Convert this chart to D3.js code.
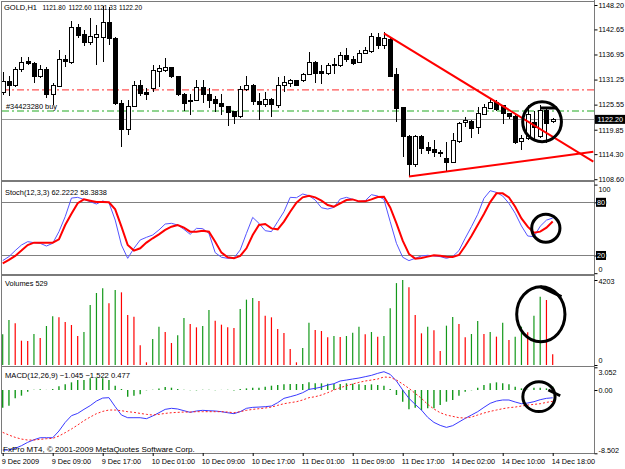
<!DOCTYPE html>
<html><head><meta charset="utf-8">
<script src="https://cdn.jsdelivr.net/npm/d3@7/dist/d3.min.js"></script>
<style>
body{margin:0;background:#fff;}
text{font-family:"Liberation Sans",Arial,sans-serif;font-size:7.4px;white-space:pre;}
</style>
</head><body>
<svg id="c" width="625" height="469"></svg>
<script>
// ---------------- DATA ----------------
const symbolLabel = "GOLD,H1";
const timeLabels = ["9 Dec 2009","9 Dec 09:00","9 Dec 17:00","10 Dec 01:00","10 Dec 09:00","10 Dec 17:00","11 Dec 01:00","11 Dec 09:00","11 Dec 17:00","14 Dec 02:00","14 Dec 10:00","14 Dec 18:00"];
const timeLabelBars = [0,8,16,24,32,40,48,56,64,72,80,88];

const open = [1128.2,1130.8,1129.8,1133.6,1135.3,1134.8,1131.9,1133.65,1127.75,1129.6,
1135.7,1135.1,1143.1,1141.4,1139.6,1140.9,1140.85,1144.3,1140.6,1125.7,
1119.8,1125.1,1130.0,1128.3,1129.25,1133.05,1133.3,1134.05,1131.9,1127.75,
1126.15,1126.6,1129.5,1127.9,1126.75,1125.7,1125.1,1123.95,1122.8,1129.05,
1129.8,1126.2,1125.5,1126.75,1125.25,1130.0,1130.4,1130.95,1130.95,1132.5,
1135.1,1133.05,1132.7,1134.35,1134.35,1136.8,1135.85,1135.1,1137.2,1137.6,
1140.85,1139.1,1140.4,1132.5,1124.95,1118.25,1112.05,1118.4,1115.8,1115.25,
1114.6,1113.35,1112.45,1117.1,1121.45,1121.7,1120.4,1123.4,1124.75,1126.05,
1125.25,1123.45,1122.95,1117.1,1117.9,1121.5,1118.25,1124.3,1121.80];
const high = [1133.0,1132.1,1134.2,1136.45,1136.3,1135.3,1134.6,1134.0,1130.4,1138.0,
1136.8,1144.6,1143.8,1142.5,1145.2,1143.65,1148.0,1147.8,1140.9,1126.6,
1126.6,1131.0,1131.1,1129.3,1134.5,1134.6,1136.1,1134.2,1132.05,1128.1,
1128.0,1131.2,1131.2,1129.3,1127.4,1127.9,1125.25,1124.0,1129.9,1132.05,
1130.3,1128.1,1128.5,1127.0,1131.9,1132.05,1131.3,1131.0,1132.8,1137.6,
1135.55,1134.6,1134.95,1136.1,1137.5,1138.35,1136.6,1138.0,1138.55,1141.75,
1141.75,1142.1,1141.0,1133.8,1125.1,1118.65,1118.65,1118.65,1117.1,1117.5,
1115.25,1117.1,1119.2,1121.6,1122.7,1122.05,1124.95,1125.7,1127.0,1126.6,
1125.5,1123.6,1123.1,1118.65,1125.4,1124.0,1125.5,1124.7,1122.60];
const low = [1127.7,1127.4,1129.6,1133.05,1134.6,1130.4,1131.5,1127.0,1125.5,1129.5,
1134.2,1134.8,1140.6,1138.9,1139.1,1134.6,1135.25,1139.1,1125.4,1116.0,
1118.65,1125.0,1127.4,1126.6,1128.4,1129.6,1133.05,1131.5,1127.4,1124.2,
1123.3,1126.45,1125.85,1124.7,1123.95,1123.2,1120.7,1121.15,1122.4,1128.7,
1125.5,1122.1,1125.1,1122.8,1124.7,1128.5,1129.6,1129.9,1130.7,1132.3,
1130.4,1130.2,1132.3,1132.5,1134.1,1135.3,1134.5,1134.95,1136.95,1137.2,
1138.1,1138.1,1131.9,1121.7,1113.7,1109.2,1111.4,1114.3,1114.3,1113.7,
1113.7,1110.3,1112.2,1116.9,1120.4,1117.9,1118.9,1123.3,1124.5,1124.0,
1121.15,1122.3,1116.6,1115.25,1117.5,1117.5,1117.9,1116.75,1121.33];
const close = [1130.7,1129.8,1133.65,1135.1,1134.8,1132.05,1133.65,1127.75,1129.8,1135.7,
1135.25,1143.1,1141.2,1139.6,1141.0,1141.4,1144.3,1140.6,1125.7,1119.8,
1125.1,1130.0,1128.1,1127.75,1133.2,1133.8,1134.05,1132.05,1127.75,1125.85,
1126.5,1129.5,1127.75,1126.6,1125.7,1125.1,1123.7,1122.95,1129.05,1129.8,
1126.2,1125.5,1126.75,1125.5,1130.0,1130.55,1130.95,1130.0,1132.5,1135.1,
1132.65,1132.7,1134.35,1134.6,1136.8,1135.7,1134.95,1137.2,1137.8,1141.0,
1139.1,1140.6,1132.05,1124.7,1118.25,1112.05,1118.25,1115.6,1115.1,1114.65,
1114.5,1112.45,1117.5,1121.3,1122.05,1120.2,1123.6,1124.95,1126.05,1124.5,
1123.45,1122.8,1116.9,1117.9,1123.2,1120.3,1124.3,1121.15,1122.20];

const priceTicks = [1148.20,1142.65,1136.95,1131.25,1125.55,1119.85,1114.30,1108.60];
const bidPrice = 1122.20;
const stopLevel = 1128.9;
const orderLevel = 1124.1;
const orderLabel = "#34423280 buy";
const trendDown = [[61,1141.77],[94.5,1112.6]];
const trendUp = [[65,1109.2],[94.5,1114.86]];

const stochK = [14.2,18.7,25.5,31.8,35.6,34.5,33.7,30.7,33.7,46.9,
63.8,84.8,85.6,83.3,80.7,78.1,81.5,79.6,60,31.8,
16.8,28.1,37.5,40.5,43.1,48.8,55.5,56.3,54.4,49.5,
43.9,50.6,50.3,45,23.2,18,16.8,17.2,26.2,45,
63,56.3,48,46.9,58.2,69.4,85.6,85.2,89.4,87.5,
82.6,73.9,72.4,74.3,83.7,85.6,83.3,80.7,81.8,88.6,
87.1,83.3,58.2,33.7,18,14.2,16.8,19.5,20.2,19.5,
18.7,16.8,18.7,25.5,39.4,52.5,66.4,84.5,93.1,91.2,
87.1,78.8,67.6,53.3,42,41.2,53,59.9,62.2222];
const stochD = [11.2,15,19.5,25.5,31.8,34.5,34.5,34.5,34.5,38.2,
54.4,67,79,83.3,81.8,80.3,80.3,80,72.1,52.5,
31.8,25.5,28.1,34.5,39.4,43.9,48.8,52.5,54.4,51.4,
46.9,46.9,48,46.9,35.6,23.2,18,16.8,19.5,28.1,
43.1,54.4,55.5,50.6,49.5,58.2,69.4,79.6,85.6,87.5,
85.6,81.8,76.9,75.1,78.8,82.6,83.3,81.1,81.1,83.3,
86,86.3,74.3,56.3,36.7,21.7,16.4,17.2,18.7,20.2,
19.8,18.7,18.3,20.6,30.7,42,54.4,66.8,80.3,90.1,
90.1,85.6,75.1,61.9,52.5,45.8,46.9,51.4,58.3838];
const stochTicks = [100,80,20,0];
const stochLevels = [80,20];

const volumes = [1517,2225,2060,1203,1190,1533,1335,1928,2407,2357,
2126,1978,1434,1632,2967,3560,3791,3049,3709,3593,
2472,2390,972,132,1285,1896,1632,1088,1467,2324,
2027,1862,1928,2720,2192,1994,1862,1830,2769,3231,
3313,3165,2440,2357,1780,1582,791,132,841,2093,
1731,1681,1369,1434,1385,1434,1599,1896,1517,1632,
1402,1434,2802,4050,4203,3841,2472,1566,1896,1714,
692,1945,2374,2027,1369,1533,2176,1533,1632,1402,
2093,1236,1402,1896,1615,2440,3379,3214,529];
const volTicks = [4203,0];

const macdHist = [-2.37,-2.1,-1.12,-0.76,-0.22,0.05,0.09,0.02,0.14,0.49,
0.76,1.03,1.34,1.34,1.57,1.66,1.57,1.34,0.58,0.14,
-0.9,-0.76,-0.58,-0.04,0.04,0.22,0.4,0.31,0.13,0.02,
-0.04,-0.05,0.02,0.02,-0.04,0.02,0.02,-0.05,0.13,0.22,
0.31,0.31,0.45,0.58,0.67,0.76,0.81,0.81,0.81,1.03,
0.9,0.9,0.85,0.81,0.81,0.9,0.85,0.76,0.67,0.76,
0.67,0.58,0.13,-0.67,-1.57,-2.6,-2.37,-2.69,-2.46,-2.46,
-2.0,-1.57,-1.34,-0.76,-0.22,-0.04,0.31,0.67,0.9,1.03,
0.9,0.76,0.45,0.22,0.04,0.31,0.31,0.22,0.477];
const macdMain = [-8.06,-8.06,-7.84,-7.48,-7.03,-6.68,-6.41,-6.41,-6.41,-5.51,
-4.35,-3.45,-3.14,-2.6,-2.1,-1.48,-1.08,-1.03,-2.24,-3.36,
-3.72,-3.72,-3.72,-3.85,-3.49,-3.05,-2.6,-2.46,-2.55,-2.78,
-3.0,-2.82,-2.73,-2.78,-2.82,-2.91,-3.05,-3.18,-2.91,-2.46,
-2.33,-2.29,-2.24,-2.15,-1.7,-1.12,-0.9,-0.67,-0.36,0.09,
0.22,0.4,0.67,0.85,1.21,1.34,1.48,1.61,1.79,1.97,
2.24,2.46,2.1,1.21,0.0,-1.12,-1.93,-2.69,-3.67,-4.35,
-4.75,-5.02,-4.79,-4.3,-3.81,-3.36,-2.91,-2.33,-1.79,-1.48,
-1.34,-1.34,-1.61,-1.84,-1.75,-1.57,-1.3,-1.12,-1.045];
const macdSignal = [-5.69,-6.05,-6.36,-6.59,-6.72,-6.72,-6.63,-6.54,-6.5,-6.18,
-5.73,-5.24,-4.7,-4.12,-3.63,-3.18,-2.87,-2.69,-2.69,-2.78,
-2.91,-3.0,-3.14,-3.27,-3.36,-3.27,-3.14,-3.05,-3.0,-2.96,
-2.96,-2.91,-2.91,-2.91,-2.91,-2.91,-2.96,-3.05,-2.91,-2.73,
-2.6,-2.51,-2.42,-2.29,-2.06,-1.84,-1.7,-1.57,-1.34,-1.03,
-0.9,-0.67,-0.36,0.0,0.31,0.58,0.81,1.03,1.21,1.34,
1.48,1.75,1.7,1.34,0.81,0.22,-0.45,-1.12,-1.93,-2.55,
-3.05,-3.36,-3.54,-3.72,-3.76,-3.63,-3.36,-3.09,-2.87,-2.69,
-2.51,-2.37,-2.29,-2.15,-2.02,-1.93,-1.84,-1.66,-1.522];
const macdTicks = [3.052,0,-8.502];
const macdTickLabels = ["3.052","0.00","-8.502"];

// hand-drawn annotations (bar index, value, radius in bars, radius in value units)
const annPrice = {bar:86.3, value:1121.68, rb:3.1, rv:4.55};
const annStoch = {bar:86.9, value:50.7, rb:2.26, rv:15.8};
const annVol = {bar:86.1, value:2512, rb:3.86, rv:1360};
const annMacd = {bar:85.8, value:-0.9, rb:2.58, rv:2.0};

// ---------------- DRAW ----------------
const svg = d3.select("#c");
svg.append("rect").attr("width",625).attr("height",469).attr("fill","#fff");
const L = 2, R = 594;
const panels = [
  {id:"p", top:2, bottom:180},
  {id:"s", top:182, bottom:274},
  {id:"v", top:276, bottom:366},
  {id:"m", top:367, bottom:453}
];
const defs = svg.append("defs");
panels.forEach(p=>{
  defs.append("clipPath").attr("id","clip"+p.id).append("rect")
    .attr("x",L).attr("y",p.top).attr("width",R-L).attr("height",p.bottom-p.top);
});

const idx = d3.range(close.length);
const x = d3.scaleLinear().domain([0,88]).range([2.7, 2.7+6.25*88]);
const yP = d3.scaleLinear().domain([1108.6,1148.2]).range([179.2,5]);
const yS = d3.scaleLinear().domain([0,100]).range([273.2,184.6]);
const yV = d3.scaleLinear().domain([0,4203]).range([365,280]);
const yM = d3.scaleLinear().domain([-8.502,3.052]).range([453.3,367.3]);

const GREEN = "#13981a", RED = "#ff0000";

// ---- price panel ----
const gP = svg.append("g").attr("clip-path","url(#clipp)");
gP.append("line").attr("x1",L).attr("x2",R).attr("y1",yP(stopLevel)).attr("y2",yP(stopLevel))
  .attr("stroke","#ff5555").attr("stroke-width",1.3).attr("stroke-dasharray","7,3,2,3");
gP.append("line").attr("x1",L).attr("x2",R).attr("y1",yP(orderLevel)).attr("y2",yP(orderLevel))
  .attr("stroke","#22aa22").attr("stroke-width",1.1).attr("stroke-dasharray","7,3,2,3");
gP.append("line").attr("x1",L).attr("x2",R).attr("y1",Math.round(yP(bidPrice))+0.5).attr("y2",Math.round(yP(bidPrice))+0.5)
  .attr("stroke","#9a9a9a").attr("stroke-width",1);
gP.append("text").attr("x",6).attr("y",yP(orderLevel)-2).text(orderLabel);

const gC = gP.append("g").attr("shape-rendering","crispEdges");
gC.selectAll("line.w").data(idx).join("line").attr("class","w")
  .attr("x1",i=>Math.round(x(i))+0.5).attr("x2",i=>Math.round(x(i))+0.5)
  .attr("y1",i=>yP(high[i])).attr("y2",i=>yP(low[i])).attr("stroke","#000");
gC.selectAll("rect.b").data(idx).join("rect").attr("class","b")
  .attr("x",i=>Math.round(x(i))-1.5).attr("width",4)
  .attr("y",i=>yP(Math.max(open[i],close[i])))
  .attr("height",i=>Math.max(1,Math.abs(yP(open[i])-yP(close[i]))))
  .attr("fill",i=>close[i]>=open[i]?"#fff":"#000").attr("stroke","#000");

const lineXY = d3.line().x(d=>x(d[0])).y(d=>yP(d[1]));
gP.append("path").attr("d",lineXY(trendDown)).attr("stroke","#ff0000").attr("stroke-width",2).attr("fill","none");
gP.append("path").attr("d",lineXY(trendUp)).attr("stroke","#ff0000").attr("stroke-width",2).attr("fill","none");

// ---- stochastic ----
const gS = svg.append("g").attr("clip-path","url(#clips)");
gS.selectAll("line.lvl").data(stochLevels).join("line").attr("class","lvl")
  .attr("x1",L).attr("x2",R).attr("y1",d=>Math.round(yS(d))+0.5).attr("y2",d=>Math.round(yS(d))+0.5)
  .attr("stroke","#808080");
gS.append("path").datum(idx).attr("fill","none").attr("stroke","#5555ff").attr("stroke-width",1)
  .attr("d",d3.line().x(i=>x(i)).y(i=>yS(stochK[i])));
gS.append("path").datum(idx).attr("fill","none").attr("stroke","#ff0000").attr("stroke-width",2)
  .attr("d",d3.line().x(i=>x(i)).y(i=>yS(stochD[i])));

// ---- volumes ----
const gV = svg.append("g").attr("clip-path","url(#clipv)");
gV.selectAll("line.vb").data(idx).join("line").attr("class","vb")
  .attr("x1",i=>x(i)).attr("x2",i=>x(i)).attr("y1",yV(0)).attr("y2",i=>yV(volumes[i]))
  .attr("stroke",i=> (i===0 || volumes[i]>volumes[i-1]) ? GREEN : RED).attr("stroke-width",1.2);

// ---- MACD ----
const gM = svg.append("g").attr("clip-path","url(#clipm)");
gM.selectAll("line.hb").data(idx).join("line").attr("class","hb")
  .attr("x1",i=>x(i)).attr("x2",i=>x(i)).attr("y1",yM(0)).attr("y2",i=>yM(macdHist[i]))
  .attr("stroke",GREEN).attr("stroke-width",1.4);
gM.append("path").datum(idx).attr("fill","none").attr("stroke","#3a3aff").attr("stroke-width",1)
  .attr("d",d3.line().x(i=>x(i)).y(i=>yM(macdMain[i])));
gM.append("path").datum(idx).attr("fill","none").attr("stroke","#ff2020").attr("stroke-width",1)
  .attr("stroke-dasharray","2,2")
  .attr("d",d3.line().x(i=>x(i)).y(i=>yM(macdSignal[i])));

// ---- panel borders ----
panels.forEach(p=>{
  svg.append("rect").attr("x",L-0.5).attr("y",p.top-0.5).attr("width",R-L+1).attr("height",p.bottom-p.top+1)
    .attr("fill","none").attr("stroke","#7a7a7a").attr("stroke-width",1);
});
svg.append("line").attr("x1",R+0.5).attr("x2",R+0.5).attr("y1",0).attr("y2",453).attr("stroke","#7a7a7a");

// ---- right axes ----
function rightAxis(scale, ticks, fmt, shifts){
  const g = svg.append("g").attr("transform",`translate(${R+0.5},0)`)
    .call(d3.axisRight(scale).tickValues(ticks).tickSize(3).tickPadding(1).tickFormat(fmt));
  g.select(".domain").remove();
  g.selectAll("text").style("font-family",'"Liberation Sans",Arial,sans-serif').style("font-size","7.2px")
    .attr("dy",(d,i)=> (0.32 + (shifts[i]||0)/7.2)+"em");
  g.selectAll("line").attr("stroke","#000");
  return g;
}
rightAxis(yP, priceTicks, d3.format(".2f"), []);
rightAxis(yS, stochTicks, d3.format("d"), [4.7,0,0,-4.2]);
rightAxis(yV, volTicks, d3.format("d"), [1,-5]);
rightAxis(yM, macdTicks, (d,i)=>macdTickLabels[i], [5,0,-3.3]);

stochLevels.forEach(lv=>{
  const yy = yS(lv);
  svg.append("rect").attr("x",R+2).attr("y",yy-4.5).attr("width",10).attr("height",9).attr("fill","#000");
  svg.append("text").attr("x",R+3).attr("y",yy+2.6).attr("fill","#fff").style("font-size","7.2px").text(lv);
});
svg.append("rect").attr("x",R+1).attr("y",yP(bidPrice)-4.5).attr("width",30).attr("height",9).attr("fill","#000");
svg.append("text").attr("x",R+3.5).attr("y",yP(bidPrice)+2.6).attr("fill","#fff").style("font-size","7.2px").text(d3.format(".2f")(bidPrice));

// ---- time axis ----
const gX = svg.append("g").attr("transform","translate(0,453)")
  .call(d3.axisBottom(x).tickValues(timeLabelBars).tickSize(3).tickPadding(3).tickFormat((d,i)=>timeLabels[i]));
gX.select(".domain").remove();
gX.selectAll("text").attr("text-anchor","start").attr("dx","-1.5")
  .style("font-family",'"Liberation Sans",Arial,sans-serif').style("font-size","7.3px");

// ---- panel titles ----
const f2 = d3.format(".2f");
const headerParts = [symbolLabel, f2(open[88]), f2(high[88]), f2(low[88]), f2(close[88])];
const headerX = [4, 42.5, 68.5, 93.5, 119];
headerParts.forEach((t,i)=>{
  const tx = svg.append("text").attr("x",headerX[i]).attr("y",10).style("font-size","7.4px").text(t);
  if(i>0) tx.attr("textLength",23).attr("lengthAdjust","spacingAndGlyphs");
  else tx.attr("textLength",33).attr("lengthAdjust","spacingAndGlyphs");
});
svg.append("text").attr("x",5).attr("y",195).text(`Stoch(12,3,3) ${d3.format(".4f")(stochK[88])} ${d3.format(".4f")(stochD[88])}`);
svg.append("text").attr("x",5).attr("y",286).text(`Volumes ${volumes[88]}`);
svg.append("text").attr("x",5).attr("y",378).style("font-size","7.6px").text(`MACD(12,26,9) ${d3.format(".3f")(macdMain[88])} ${d3.format(".3f")(macdSignal[88])} ${d3.format(".3f")(macdHist[88])}`);
svg.append("text").attr("x",3).attr("y",451.5).style("font-size","8px").text("FxPro MT4, © 2001-2009 MetaQuotes Software Corp.");

// ---- hand-drawn annotations ----
function ann(a, ys){
  const cx = x(a.bar), cy = ys(a.value);
  svg.append("ellipse").attr("cx",cx).attr("cy",cy)
    .attr("rx",x(a.bar+a.rb)-cx).attr("ry",Math.abs(ys(a.value+a.rv)-cy))
    .attr("fill","none").attr("stroke","#000").attr("stroke-width",3);
}
ann(annPrice, yP); ann(annStoch, yS); ann(annVol, yV); ann(annMacd, yM);
const annStroke = d3.line().x(d=>x(d[0]));
svg.append("path").attr("d",annStroke.y(d=>yP(d[1]))([[86,1124.79],[88.7,1124.79]]))
  .attr("stroke","#000").attr("stroke-width",3).attr("fill","none");
svg.append("path").attr("d",annStroke.y(d=>yV(d[1]))([[86,3872],[89.4,3377]]))
  .attr("stroke","#000").attr("stroke-width",3).attr("fill","none");
svg.append("path").attr("d",annStroke.y(d=>yM(d[1]))([[87.3,0],[89.2,-0.77]]))
  .attr("stroke","#000").attr("stroke-width",3).attr("fill","none");
</script>
</body></html>
